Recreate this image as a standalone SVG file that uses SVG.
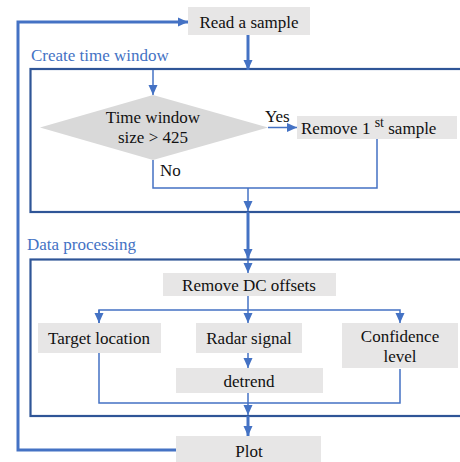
<svg xmlns="http://www.w3.org/2000/svg" width="460" height="462" viewBox="0 0 460 462" font-family="'Liberation Serif', 'DejaVu Serif', serif">
<style>
text{font-family:"Liberation Serif","DejaVu Serif",serif;font-size:17px;fill:#111}
.box{fill:#E7E6E6}
.dia{fill:#D9D9D9}
.frame{fill:none;stroke:#2F5597;stroke-width:2.2}
.title{fill:#4472C4}
.thick{fill:none;stroke:#4472C4;stroke-width:3}
.thin{fill:none;stroke:#4472C4;stroke-width:1.5}
</style>
<defs>
<marker id="ah" markerUnits="userSpaceOnUse" markerWidth="10" markerHeight="10" viewBox="0 0 10 10" refX="10" refY="5" orient="auto">
<path d="M0,0.5 L10,5 L0,9.5 Z" fill="#4472C4"/>
</marker>
</defs>
<g id="frames">
<rect class="frame" x="30.5" y="69" width="440" height="143"/>
<text class="title" x="31" y="61">Create time window</text>
<rect class="frame" x="30.5" y="259.5" width="440" height="156.5"/>
<text class="title" x="27" y="250">Data processing</text>
</g>
<g id="connectors">
<path class="thick" d="M176,450 H18 V22 H188" marker-end="url(#ah)"/>
<path class="thick" d="M248,35 V70" marker-end="url(#ah)"/>
<path class="thin" d="M153,70 V95" marker-end="url(#ah)"/>
<path class="thin" d="M268,127.5 H297" marker-end="url(#ah)"/>
<path class="thin" d="M377,139 V188 H153 V160"/>
<path class="thin" d="M248,188 V211" marker-end="url(#ah)"/>
<path class="thick" d="M248,212 V259" marker-end="url(#ah)"/>
<path class="thin" d="M248,260 V273" marker-end="url(#ah)"/>
<path class="thin" d="M248,296 V310"/>
<path class="thin" d="M99,323 V310 H400 V323" marker-end="url(#ah)"/>
<path class="thin" d="M99,310 V323" marker-end="url(#ah)"/>
<path class="thin" d="M248,310 V323" marker-end="url(#ah)"/>
<path class="thin" d="M248,353 V368" marker-end="url(#ah)"/>
<path class="thin" d="M99,353 V403 H400 V369"/>
<path class="thin" d="M248,393 V415" marker-end="url(#ah)"/>
<path class="thick" d="M248,416 V436" marker-end="url(#ah)"/>
<text x="265" y="122">Yes</text>
<text x="160" y="176">No</text>
</g>
<g id="read">
<rect class="box" x="188" y="7" width="122" height="28"/>
<text x="249" y="28" text-anchor="middle">Read a sample</text>
</g>
<g id="decision">
<polygon class="dia" points="153,95 268,127.5 153,160 40,127.5"/>
<text x="153" y="123" text-anchor="middle">Time window</text>
<text x="153" y="143" text-anchor="middle">size &gt; 425</text>
</g>
<g id="remove1">
<rect class="box" x="297" y="116" width="160" height="23"/>
<text x="301" y="134">Remove 1 <tspan dy="-7" font-size="14">st</tspan><tspan dy="7"> sample</tspan></text>
</g>
<g id="removedc">
<rect class="box" x="163" y="273" width="173" height="23"/>
<text x="249" y="291" text-anchor="middle">Remove DC offsets</text>
</g>
<g id="target">
<rect class="box" x="38" y="323" width="123" height="30"/>
<text x="99" y="344" text-anchor="middle">Target location</text>
</g>
<g id="radar">
<rect class="box" x="196" y="323" width="106" height="30"/>
<text x="249" y="344" text-anchor="middle">Radar signal</text>
</g>
<g id="confidence">
<rect class="box" x="342" y="323" width="116" height="45"/>
<text x="400" y="342" text-anchor="middle">Confidence</text>
<text x="400" y="362" text-anchor="middle">level</text>
</g>
<g id="detrend">
<rect class="box" x="176" y="368" width="147" height="25"/>
<text x="249" y="387" text-anchor="middle">detrend</text>
</g>
<g id="plot">
<rect class="box" x="176" y="436" width="145" height="26"/>
<text x="249" y="457" text-anchor="middle">Plot</text>
</g>
</svg>
